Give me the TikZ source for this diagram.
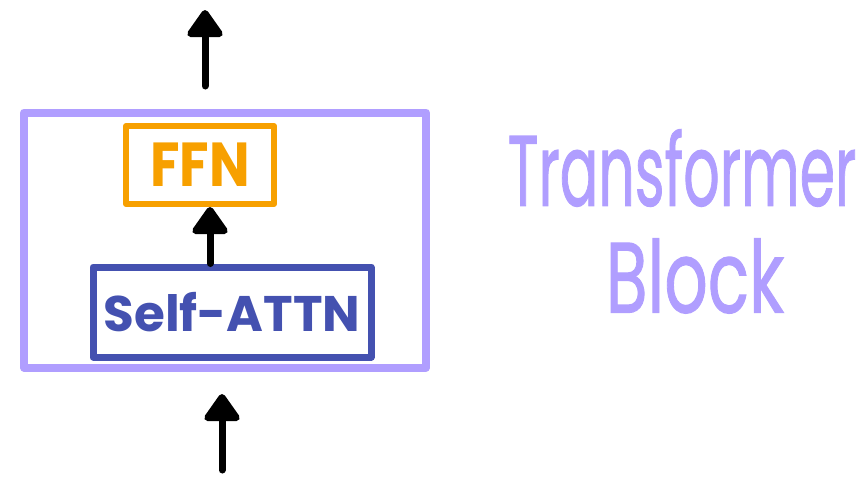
\documentclass[tikz,border=0pt]{standalone}
\usepackage{fontspec}
\setmainfont{Poppins}
\newfontfamily\handfont{Poppins}[FakeBold=1.2]
\usetikzlibrary{arrows.meta}
\definecolor{lav}{HTML}{B09EFF}
\definecolor{ora}{HTML}{F7A000}
\definecolor{blu}{HTML}{4451B0}
\tikzset{
  box/.style={draw, rectangle, line join=round, line cap=round},
  flow/.style={line width=7pt, line cap=round, -{Triangle[width=40pt,length=30pt,round]}},
  hand/.style={font=\fontsize{100}{104}\handfont, text=lav},
}
\begin{document}
\begin{tikzpicture}[x=1pt,y=-1pt]
\useasboundingbox (0,0) rectangle (866,483);
\node[box, draw=lav, line width=8pt, minimum width=402pt, minimum height=255pt] (outer) at (225,240) {};
\node[box, draw=ora, line width=6pt, minimum width=148pt, minimum height=78pt, text=ora, font=\fontsize{54}{58}\selectfont\bfseries] (ffn) at (200,165) {\scalebox{1}[1.15]{FFN}};
\node[box, draw=blu, line width=7pt, minimum width=278pt, minimum height=90pt, text=blu, font=\fontsize{50}{54}\selectfont\bfseries] (attn) at (232,312) {Self-ATTN};
\coordinate (inp) at (222,470);
\coordinate (outtop) at (205,10);
\draw[flow] (inp) -- (222,394);
\draw[flow] (205,86) -- (outtop);
\draw[flow] (attn.north -| 210,0) -- (ffn.south -| 210,0);
\node[hand, xscale=0.57] (t1) at (682,168) {Transformer};
\node[hand, xscale=0.68] (t2) at (695,276) {Block};
\end{tikzpicture}
\end{document}
